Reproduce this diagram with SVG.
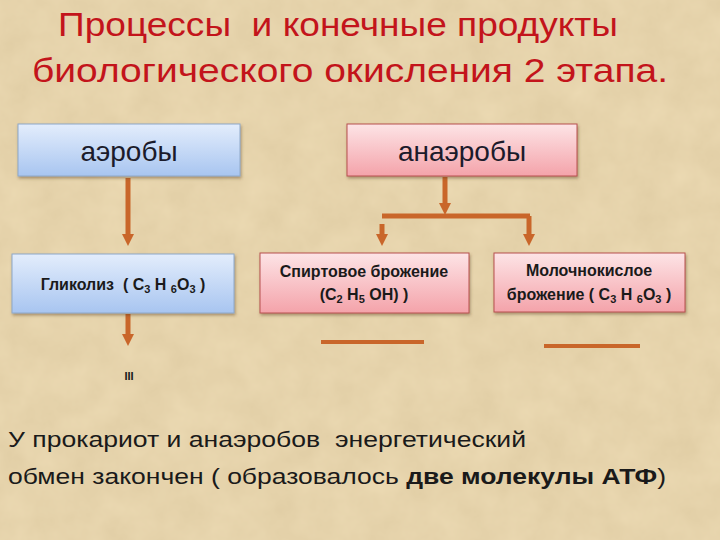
<svg xmlns="http://www.w3.org/2000/svg" width="720" height="540" viewBox="0 0 720 540">
<defs>
  <linearGradient id="blue" x1="0" y1="0" x2="0" y2="1">
    <stop offset="0" stop-color="#e3edfc"/>
    <stop offset="1" stop-color="#a8c5f0"/>
  </linearGradient>
  <linearGradient id="pink" x1="0" y1="0" x2="0" y2="1">
    <stop offset="0" stop-color="#fde4e6"/>
    <stop offset="1" stop-color="#f4a3aa"/>
  </linearGradient>
  <filter id="paper" x="0" y="0" width="100%" height="100%">
    <feTurbulence type="fractalNoise" baseFrequency="0.03" numOctaves="4" seed="3"/>
    <feColorMatrix type="matrix" values="0 0 0 0 0.55  0 0 0 0 0.42  0 0 0 0 0.22  0 0 0 0.3 0"/>
  </filter>
  <filter id="shadow" x="-10%" y="-10%" width="120%" height="130%">
    <feDropShadow dx="1" dy="2" stdDeviation="1.5" flood-color="#5a4020" flood-opacity="0.45"/>
  </filter>
  <marker id="ah" viewBox="0 0 10 10" refX="5" refY="5" markerWidth="2.4" markerHeight="2.4" orient="auto">
    <path d="M0,0 L10,5 L0,10 z" fill="#c9662a"/>
  </marker>
  <style>
    .title{font-family:"Liberation Sans","DejaVu Sans",sans-serif;font-size:34px;fill:#c3141b;white-space:pre}
    .big{font-family:"Liberation Sans","DejaVu Sans",sans-serif;font-size:28px;fill:#1b1b2b;text-anchor:middle}
    .lbl{font-family:"Liberation Sans","DejaVu Sans",sans-serif;font-size:16px;font-weight:bold;fill:#1a1a1a;text-anchor:middle;white-space:pre}
    .sub{font-size:11px}
    .body{font-family:"Liberation Sans","DejaVu Sans",sans-serif;font-size:22px;fill:#1a1a1a;white-space:pre}
    .conn{stroke:#c9662a;stroke-width:5;fill:none}
    .bluebox{fill:url(#blue);stroke:#8ea8c8;stroke-width:1;filter:url(#shadow)}
    .pinkbox{fill:url(#pink);stroke:#b8504f;stroke-width:1;filter:url(#shadow)}
  </style>
</defs>
<rect width="720" height="540" fill="#ecdab3"/>
<rect width="720" height="540" filter="url(#paper)"/>

<text class="title" x="58" y="36" textLength="560" lengthAdjust="spacingAndGlyphs">Процессы  и конечные продукты</text>
<text class="title" x="32" y="82" textLength="636" lengthAdjust="spacingAndGlyphs">биологического окисления 2 этапа.</text>

<g id="connectors">
  <line class="conn" x1="128" y1="178" x2="128" y2="240" marker-end="url(#ah)"/>
  <line class="conn" x1="445" y1="177" x2="445" y2="209" marker-end="url(#ah)"/>
  <line class="conn" x1="382" y1="216" x2="530" y2="216"/>
  <line class="conn" x1="382" y1="224" x2="382" y2="240" stroke-width="2.5" marker-end="url(#ah)"/>
  <line class="conn" x1="529" y1="216" x2="529" y2="240" marker-end="url(#ah)"/>
  <line class="conn" x1="128" y1="314" x2="128" y2="340" marker-end="url(#ah)"/>
</g>

<g id="aerobes">
  <rect class="bluebox" x="18" y="124" width="222" height="52"/>
  <text class="big" x="129" y="161">аэробы</text>
</g>
<g id="anaerobes">
  <rect class="pinkbox" x="347" y="124" width="230" height="52"/>
  <text class="big" x="462" y="161">анаэробы</text>
</g>
<g id="glycolysis">
  <rect class="bluebox" x="12" y="254" width="222" height="59"/>
  <text class="lbl" x="123" y="290">Гликолиз  ( C<tspan class="sub" dy="3">3</tspan><tspan dy="-3"> H </tspan><tspan class="sub" dy="3">6</tspan><tspan dy="-3">O</tspan><tspan class="sub" dy="3">3</tspan><tspan dy="-3"> )</tspan></text>
</g>
<g id="alcohol">
  <rect class="pinkbox" x="260" y="253" width="209" height="60"/>
  <text class="lbl" x="364" y="277">Спиртовое брожение</text>
  <text class="lbl" x="364" y="300">(C<tspan class="sub" dy="3">2</tspan><tspan dy="-3"> H</tspan><tspan class="sub" dy="3">5</tspan><tspan dy="-3"> OH) )</tspan></text>
</g>
<g id="lactic">
  <rect class="pinkbox" x="494" y="253" width="191" height="59"/>
  <text class="lbl" x="589" y="276">Молочнокислое</text>
  <text class="lbl" x="589" y="300">брожение ( C<tspan class="sub" dy="3">3</tspan><tspan dy="-3"> H </tspan><tspan class="sub" dy="3">6</tspan><tspan dy="-3">O</tspan><tspan class="sub" dy="3">3</tspan><tspan dy="-3"> )</tspan></text>
</g>

<text x="129" y="380" font-family="Liberation Sans, sans-serif" font-size="11" font-weight="bold" fill="#1a1a1a" text-anchor="middle">III</text>

<line x1="321" y1="342" x2="424" y2="342" stroke="#c9662a" stroke-width="4"/>
<line x1="544" y1="346" x2="640" y2="346" stroke="#c9662a" stroke-width="4"/>

<text class="body" x="8" y="447" textLength="518" lengthAdjust="spacingAndGlyphs">У прокариот и анаэробов  энергетический</text>
<text class="body" x="8" y="484" textLength="658" lengthAdjust="spacingAndGlyphs">обмен закончен ( образовалось <tspan font-weight="bold">две молекулы АТФ</tspan>)</text>
</svg>
